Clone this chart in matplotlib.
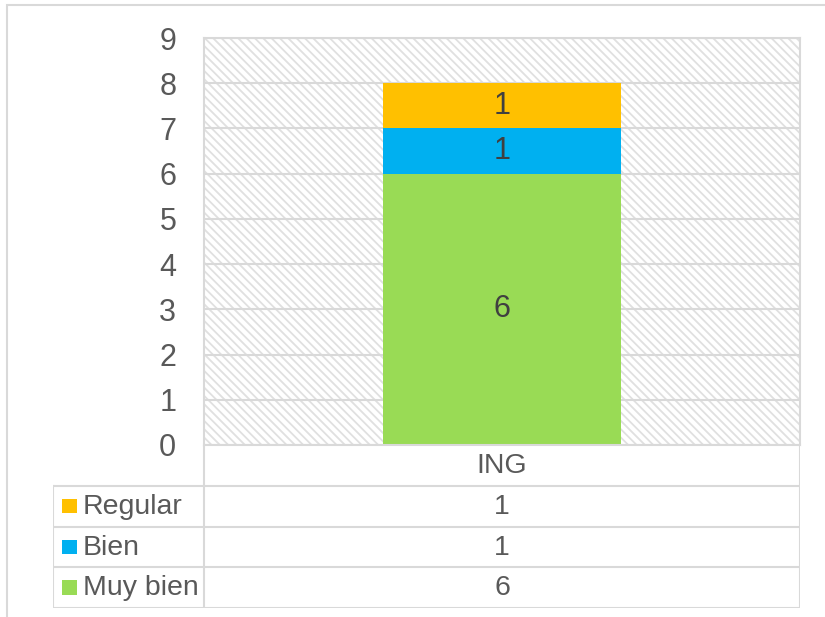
import numpy as np
import matplotlib.pyplot as plt
from matplotlib.patches import Rectangle

plt.rcParams['font.family'] = ['Liberation Sans', 'DejaVu Sans']
plt.rcParams['hatch.linewidth'] = 1.3

# datos
categorias = ['ING']
series = ['Muy bien', 'Bien', 'Regular']
valores = [6, 1, 1]
colores = ['#99DB55', '#00B0F0', '#FFC000']
yticks = list(range(0, 10))

W, H = 825, 617
fig = plt.figure(figsize=(W / 100, H / 100), dpi=100)
gris = '#D9D9D9'

# marco exterior (recortado a derecha y abajo)
fig.add_artist(Rectangle((7 / W, -0.1), 1.2, (H - 5) / H + 0.1, transform=fig.transFigure,
                         facecolor='none', edgecolor=gris, lw=1.5))

ax = fig.add_axes([204 / W, (H - 445) / H, 596 / W, 407 / H])
ax.add_patch(Rectangle((0, 0), 1, 1, transform=ax.transAxes, facecolor='white',
                       edgecolor='#E0E0E0', hatch='\\\\\\\\', lw=0, zorder=0))

fondo = 0
for s, v, c in zip(series, valores, colores):
    barras = ax.bar(categorias, [v], bottom=fondo, width=0.4, color=c, zorder=2)
    ax.bar_label(barras, labels=[str(v)], label_type='center', color='#404040', fontsize=22)
    fondo += v

ax.set_xlim(-0.5, 0.5)
ax.set_ylim(0, 9)
ax.set_yticks(yticks)
ax.set_xticks([])
ax.tick_params(axis='y', length=0, pad=20, labelsize=22, labelcolor='#595959')
ax.yaxis.grid(True, color=gris, lw=1.5, zorder=1)
ax.set_axisbelow(True)
for sp in ax.spines.values():
    sp.set_color(gris)
    sp.set_linewidth(1.5)

# tabla de datos
tx = fig.add_axes([53 / W, (H - 608) / H, 747 / W, 163 / H])
tx.set_xlim(0, 1)
tx.set_ylim(4, 0)
tx.axis('off')
sep = 151 / 747
kw = dict(color=gris, lw=1.5, solid_capstyle='projecting')
tx.plot([sep, sep], [0, 4], **kw)
tx.plot([1, 1], [0, 4], **kw)
tx.plot([0, 0], [1, 4], **kw)
for r in range(1, 5):
    tx.plot([0, 1], [r, r], **kw)

tx.text((sep + 1) / 2, 0.52, categorias[0], ha='center', va='center', fontsize=20.5, color='#595959')
filas = list(zip(series, valores, colores))[::-1]
for i, (s, v, c) in enumerate(filas):
    y = i + 1.52
    tx.text((sep + 1) / 2, y, str(v), ha='center', va='center', fontsize=20.5, color='#595959')
    tx.add_patch(Rectangle((9 / 747, y - 0.2), 15 / 747, 0.36, facecolor=c, lw=0))
    tx.text(30 / 747, y, s, ha='left', va='center', fontsize=20.5, color='#595959')

fig.savefig('out.png', dpi=100)
